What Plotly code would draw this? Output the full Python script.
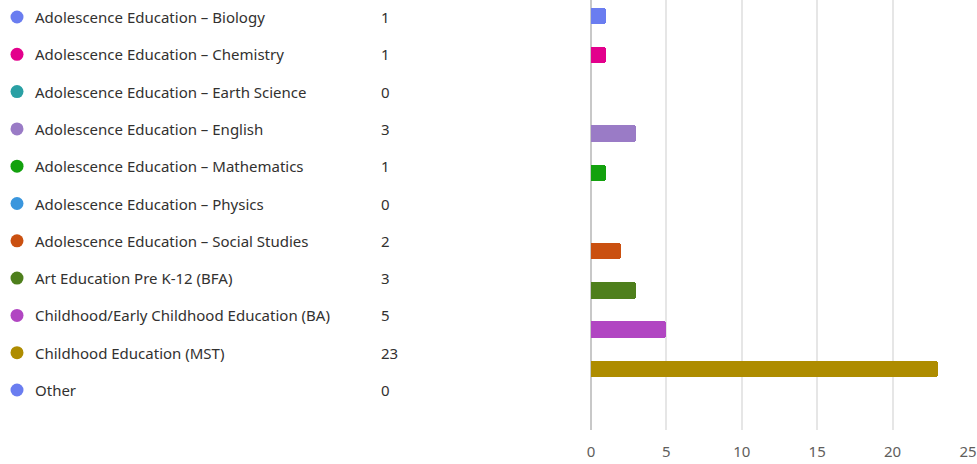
import plotly.graph_objects as go

categories = [
    "Adolescence Education – Biology",
    "Adolescence Education – Chemistry",
    "Adolescence Education – Earth Science",
    "Adolescence Education – English",
    "Adolescence Education – Mathematics",
    "Adolescence Education – Physics",
    "Adolescence Education – Social Studies",
    "Art Education Pre K-12 (BFA)",
    "Childhood/Early Childhood Education (BA)",
    "Childhood Education (MST)",
    "Other",
]
counts = [1, 1, 0, 3, 1, 0, 2, 3, 5, 23, 0]
colors = [
    "#6A7DF0", "#E3008C", "#2AA0A4", "#9A7BC6", "#13A10E", "#3A96DD",
    "#CA5010", "#4E7F1C", "#B146C2", "#AE8C00", "#6A7DF0",
]
x_ticks = [0, 5, 10, 15, 20, 25]

W, H = 977, 464
FONT = "Noto Sans"
idx = list(range(len(categories)))

fig = go.Figure()

# bars
fig.add_trace(go.Bar(
    x=counts, y=idx, orientation="h",
    marker=dict(color=colors, cornerradius=3, line=dict(width=0)),
    width=0.42, showlegend=False, hoverinfo="x",
    xaxis="x", yaxis="y",
))

# left list: dots
fig.add_trace(go.Scatter(
    x=[17] * len(idx), y=idx, mode="markers",
    marker=dict(color=colors, size=13, line=dict(width=0)),
    showlegend=False, hoverinfo="skip",
    xaxis="x2", yaxis="y2",
))

annotations = []
for i, (c, v) in enumerate(zip(categories, counts)):
    annotations.append(dict(
        x=35, y=i, xref="x2", yref="y2", text=c, showarrow=False,
        xanchor="left", yanchor="middle", borderpad=0, borderwidth=0,
        font=dict(family=FONT, size=15, color="#323130"),
    ))
    annotations.append(dict(
        x=381, y=i, xref="x2", yref="y2", text=str(v), showarrow=False,
        xanchor="left", yanchor="middle", borderpad=0, borderwidth=0,
        font=dict(family=FONT, size=15, color="#323130"),
    ))

plot_h = 430
fig.update_layout(
    width=W, height=H, autosize=False,
    margin=dict(l=0, r=0, t=0, b=H - plot_h, pad=0, autoexpand=False),
    paper_bgcolor="white", plot_bgcolor="white",
    font=dict(family=FONT, size=14, color="#605E5C"),
    bargap=0,
    xaxis=dict(
        domain=[591 / W, 968 / W], range=[0, 25], automargin=False,
        tickvals=x_ticks, ticktext=[str(t) for t in x_ticks],
        showgrid=True, gridcolor="#E6E6E6", gridwidth=1.5,
        zeroline=True, zerolinecolor="#C8C8C8", zerolinewidth=1.5,
        showline=False, ticks="", ticklen=0, ticklabelstandoff=11,
        tickfont=dict(family=FONT, size=15, color="#605E5C"),
        fixedrange=True,
    ),
    yaxis=dict(
        domain=[0, 1], automargin=False,
        range=[(plot_h - 16) / 39.2, -16 / 39.2],
        showticklabels=False, showgrid=False, zeroline=False, showline=False,
        fixedrange=True,
    ),
    xaxis2=dict(
        domain=[0, 540 / W], range=[0, 540], visible=False, fixedrange=True,
        automargin=False,
    ),
    yaxis2=dict(
        domain=[0, 1], anchor="x2", automargin=False,
        range=[(plot_h - 17) / 37.3, -17 / 37.3],
        visible=False, fixedrange=True,
    ),
    annotations=annotations,
)

fig.write_html(
    "out.html",
    config={"responsive": False, "displayModeBar": False},
    post_script="document.body.style.margin='0';document.body.style.overflow='hidden';",
)
